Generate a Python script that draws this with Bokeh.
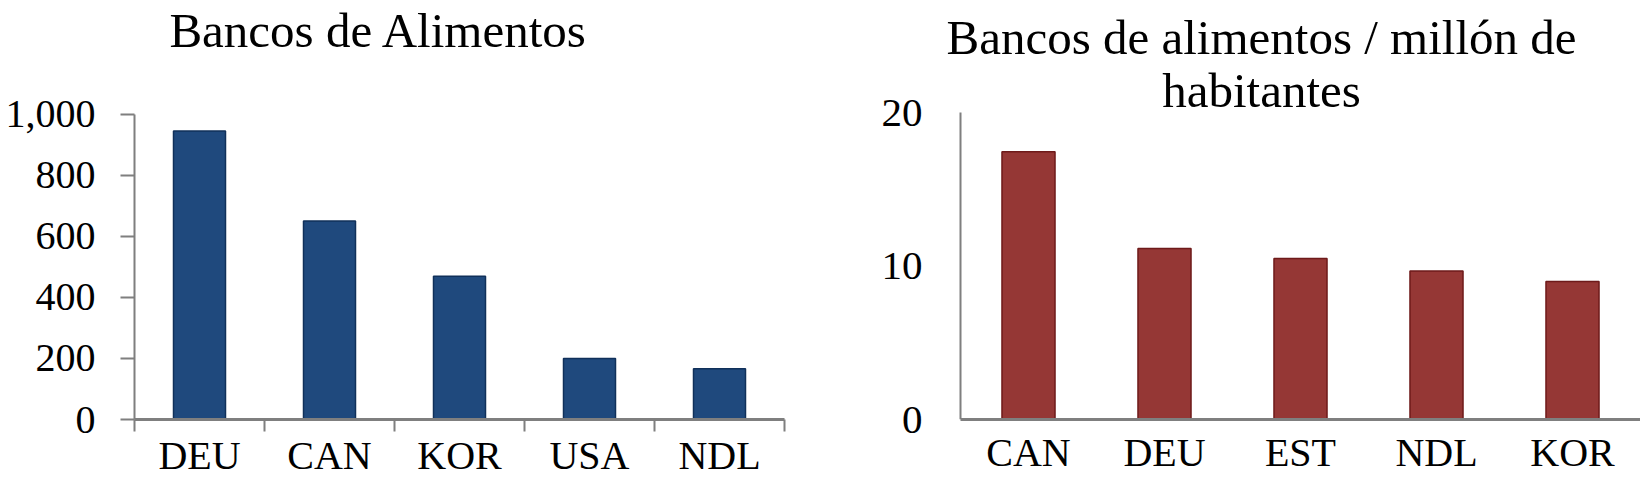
from bokeh.plotting import figure
from bokeh.layouts import row
from bokeh.models import (ColumnDataSource, Range1d, FixedTicker, NumeralTickFormatter, Label,
                          LinearAxis)
from bokeh.embed import file_html
from bokeh.resources import INLINE

# ---- data ----
left_title = "Bancos de Alimentos"
left_categories = ["DEU", "CAN", "KOR", "USA", "NDL"]
left_values = [945, 650, 469, 200, 166]
left_ticks = [0, 200, 400, 600, 800, 1000]

right_title_lines = ["Bancos de alimentos / millón de", "habitantes"]
right_categories = ["CAN", "DEU", "EST", "NDL", "KOR"]
right_values = [17.45, 11.15, 10.5, 9.68, 9.0]
right_ticks = [0, 10, 20]

FONT = "Liberation Serif"
AXIS_COLOR = "#7f7f7f"
H = 480
TITLE_SHIFT = 13

# ---- left chart ----
L_BOTTOM = 420          # px of x axis from top
L_PLOT_TOP = 114        # px of the top tick
l_end = left_ticks[-1] * L_BOTTOM / (L_BOTTOM - L_PLOT_TOP)

lx = [i + 0.5 for i in range(len(left_categories))]
lsrc = ColumnDataSource(dict(x=lx, top=left_values))
p1 = figure(width=800, height=H, output_backend="svg", toolbar_location=None,
            x_range=Range1d(0, len(left_categories)), y_range=Range1d(0, l_end),
            min_border_left=134, min_border_right=16, min_border_top=0,
            min_border_bottom=H - L_BOTTOM)
p1.vbar(x="x", top="top", width=0.4, source=lsrc, fill_color="#1F497D",
        line_color="#10305a", line_width=1.5)
p1.xgrid.visible = False
p1.ygrid.visible = False
p1.outline_line_color = None

xa = p1.xaxis[0]
xa.ticker = FixedTicker(ticks=lx, minor_ticks=list(range(len(left_categories) + 1)))
xa.major_label_overrides = {x: c for x, c in zip(lx, left_categories)}
xa.major_tick_out = 0
xa.major_tick_in = 0
xa.minor_tick_out = 12
xa.minor_tick_in = 0
xa.minor_tick_line_color = AXIS_COLOR
xa.minor_tick_line_width = 2
xa.axis_line_color = AXIS_COLOR
xa.axis_line_width = 3
xa.major_label_text_font = FONT
xa.major_label_text_font_size = "40px"
xa.major_label_text_color = "black"
xa.major_label_standoff = 1

ya = p1.yaxis[0]
ya.ticker = FixedTicker(ticks=left_ticks, minor_ticks=[])
ya.bounds = (left_ticks[0], left_ticks[-1])
ya.formatter = NumeralTickFormatter(format="0,0")
ya.major_tick_out = 14
ya.major_tick_in = 0
ya.major_tick_line_color = AXIS_COLOR
ya.major_tick_line_width = 2
ya.minor_tick_out = 0
ya.axis_line_color = AXIS_COLOR
ya.axis_line_width = 2
ya.major_label_text_font = FONT
ya.major_label_text_font_size = "40px"
ya.major_label_text_color = "black"
ya.major_label_standoff = 25

p1.add_layout(Label(x=244.5, y=L_BOTTOM - 44 + TITLE_SHIFT, x_units="screen", y_units="screen",
                    text=left_title, text_font=FONT, text_font_size="49px", text_color="black",
                    text_align="center", text_baseline="alphabetic"))

# ---- right chart ----
R_BOTTOM = 422
R_PLOT_TOP = 113
R_FRAME_LEFT = 936      # page px of frame's left edge (left of the y axis, room for the title)
R_AXIS_X = 960          # page px of the y axis
R_FIG_LEFT = 800
r_end = right_ticks[-1] * R_BOTTOM / (R_BOTTOM - R_PLOT_TOP)
n_r = len(right_categories)
r_cat_w = (1640 - R_AXIS_X) / n_r
r_pad = (R_AXIS_X - R_FRAME_LEFT) / r_cat_w

rx = [i + 0.5 for i in range(n_r)]
rsrc = ColumnDataSource(dict(x=rx, top=right_values))
p2 = figure(width=1640 - R_FIG_LEFT, height=H, output_backend="svg", toolbar_location=None,
            x_range=Range1d(-r_pad, n_r), y_range=Range1d(0, r_end),
            min_border_left=R_FRAME_LEFT - R_FIG_LEFT, min_border_right=0, min_border_top=0,
            min_border_bottom=H - R_BOTTOM)
p2.vbar(x="x", top="top", width=0.39, source=rsrc, fill_color="#953735",
        line_color="#6e1a1a", line_width=1.5)
p2.xgrid.visible = False
p2.ygrid.visible = False
p2.outline_line_color = None

xb = p2.xaxis[0]
xb.ticker = FixedTicker(ticks=rx, minor_ticks=[])
xb.major_label_overrides = {x: c for x, c in zip(rx, right_categories)}
xb.bounds = (0, n_r)
xb.major_tick_out = 0
xb.major_tick_in = 0
xb.minor_tick_out = 0
xb.minor_tick_in = 0
xb.axis_line_color = AXIS_COLOR
xb.axis_line_width = 3
xb.major_label_text_font = FONT
xb.major_label_text_font_size = "40px"
xb.major_label_text_color = "black"
xb.major_label_standoff = 10

# y axis line at the category start (inside the frame); its labels come from a second, line-less axis
yb = p2.yaxis[0]
yb.ticker = FixedTicker(ticks=[], minor_ticks=[])
yb.bounds = (right_ticks[0], right_ticks[-1])
yb.fixed_location = 0
yb.major_tick_out = 0
yb.major_tick_in = 0
yb.minor_tick_out = 0
yb.axis_line_color = AXIS_COLOR
yb.axis_line_width = 2
yb.major_label_standoff = 0

yl = LinearAxis(ticker=FixedTicker(ticks=right_ticks, minor_ticks=[]),
                axis_line_color=None, major_tick_out=0, major_tick_in=0,
                minor_tick_out=0, minor_tick_in=0,
                major_label_text_font=FONT, major_label_text_font_size="41px",
                major_label_text_color="black", major_label_standoff=14)
p2.add_layout(yl, "left")

for line, baseline in zip(right_title_lines, [53, 106]):
    p2.add_layout(Label(x=1261 - R_FRAME_LEFT, y=R_BOTTOM - baseline + TITLE_SHIFT,
                        x_units="screen", y_units="screen",
                        text=line, text_font=FONT, text_font_size="49px", text_color="black",
                        text_align="center", text_baseline="alphabetic"))

layout = row(p1, p2)
open("out.html", "w").write(file_html(layout, INLINE))
